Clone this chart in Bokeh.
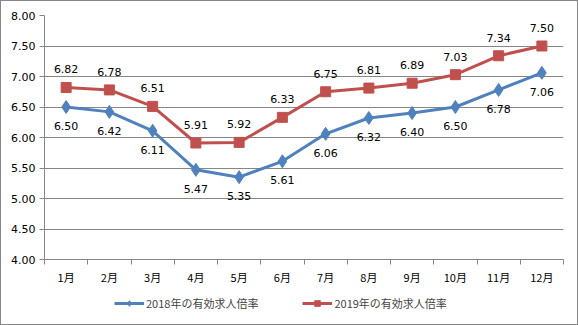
from bokeh.plotting import figure
from bokeh.layouts import column
from bokeh.models import (ColumnDataSource, FixedTicker, LabelSet, Legend, LegendItem,
                          NumeralTickFormatter, Range1d)
from bokeh.core.properties import value
from bokeh.embed import file_html
from bokeh.resources import INLINE

months = ["1月", "2月", "3月", "4月", "5月", "6月", "7月", "8月", "9月", "10月", "11月", "12月"]
rate_2018 = [6.50, 6.42, 6.11, 5.47, 5.35, 5.61, 6.06, 6.32, 6.40, 6.50, 6.78, 7.06]
rate_2019 = [6.82, 6.78, 6.51, 5.91, 5.92, 6.33, 6.75, 6.81, 6.89, 7.03, 7.34, 7.50]
name_2018 = "2018年の有効求人倍率"
name_2019 = "2019年の有効求人倍率"

BLUE = "#4F81BD"
RED = "#C0504D"
GRID = "#868686"
FONT = "DejaVu Sans"
JP = "Noto Sans CJK JP"

xs = list(range(1, len(months) + 1))
src = ColumnDataSource(dict(
    x=xs, y18=rate_2018, y19=rate_2019,
    t18=[f"{v:.2f}" for v in rate_2018],
    t19=[f"{v:.2f}" for v in rate_2019],
))

p = figure(width=576, height=290, output_backend="svg", toolbar_location=None,
           x_range=Range1d(0.5, len(months) + 0.5), y_range=Range1d(4.0, 8.0),
           min_border_left=43, min_border_right=14, min_border_top=14, min_border_bottom=32)
p.outline_line_color = None
p.background_fill_color = "white"
p.border_fill_color = "white"

p.xgrid.grid_line_color = None
p.ygrid.grid_line_color = GRID
p.ygrid.grid_line_width = 1

p.yaxis.ticker = FixedTicker(ticks=[4.0 + 0.5 * i for i in range(9)])
p.yaxis.formatter = NumeralTickFormatter(format="0.00")
p.yaxis.axis_line_color = GRID
p.yaxis.major_tick_line_color = GRID
p.yaxis.major_tick_in = 0
p.yaxis.major_tick_out = 5
p.yaxis.minor_tick_line_color = None
p.yaxis.major_label_text_font = FONT
p.yaxis.major_label_text_font_size = "11px"
p.yaxis.major_label_text_color = "black"
p.yaxis.major_label_standoff = 4

p.xaxis.ticker = FixedTicker(ticks=xs, minor_ticks=[i + 0.5 for i in range(0, len(months) + 1)])
p.xaxis.major_label_overrides = {i: m for i, m in zip(xs, months)}
p.xaxis.axis_line_color = GRID
p.xaxis.major_tick_line_color = None
p.xaxis.minor_tick_line_color = GRID
p.xaxis.minor_tick_in = 0
p.xaxis.minor_tick_out = 5
p.xaxis.major_label_text_font = JP
p.xaxis.major_label_text_font_size = "11px"
p.xaxis.major_label_text_color = "black"
p.xaxis.major_label_standoff = 3

p.line("x", "y18", source=src, color=BLUE, line_width=3)
p.scatter("x", "y18", source=src, marker="diamond", size=13, color=BLUE)
p.line("x", "y19", source=src, color=RED, line_width=3)
p.scatter("x", "y19", source=src, marker="square", size=10, color=RED)

lab19 = LabelSet(x="x", y="y19", text="t19", source=src, y_offset=18,
                 text_align="center", text_baseline="middle",
                 text_font=value(FONT), text_font_size=value("11px"), text_color="black")
lab18 = LabelSet(x="x", y="y18", text="t18", source=src, y_offset=-19,
                 text_align="center", text_baseline="middle",
                 text_font=value(FONT), text_font_size=value("11px"), text_color="black")
p.add_layout(lab19)
p.add_layout(lab18)

# legend strip below the chart (its own renderers use the same data, out of view)
q = figure(width=576, height=33, output_backend="svg", toolbar_location=None,
           x_range=Range1d(0, 1), y_range=Range1d(0, 1),
           min_border_left=0, min_border_right=0, min_border_top=0, min_border_bottom=0)
q.axis.visible = False
q.grid.grid_line_color = None
q.outline_line_color = None
k18l = q.line("x", "y18", source=src, color=BLUE, line_width=3)
k18m = q.scatter("x", "y18", source=src, marker="diamond", size=9, color=BLUE)
k19l = q.line("x", "y19", source=src, color=RED, line_width=3)
k19m = q.scatter("x", "y19", source=src, marker="square", size=8, color=RED)

legend = Legend(items=[LegendItem(label=name_2018, renderers=[k18l, k18m]),
                       LegendItem(label=name_2019, renderers=[k19l, k19m])],
                orientation="horizontal", location=(70, 13),
                label_text_font=JP, label_text_font_size="11px",
                glyph_width=30, glyph_height=14, spacing=44, padding=4, margin=0,
                label_standoff=2, border_line_color=None, background_fill_alpha=0)
q.add_layout(legend)

layout = column(p, q, spacing=0, styles={"border": f"1px solid {GRID}"})
open("out.html", "w").write(file_html(layout, INLINE))
